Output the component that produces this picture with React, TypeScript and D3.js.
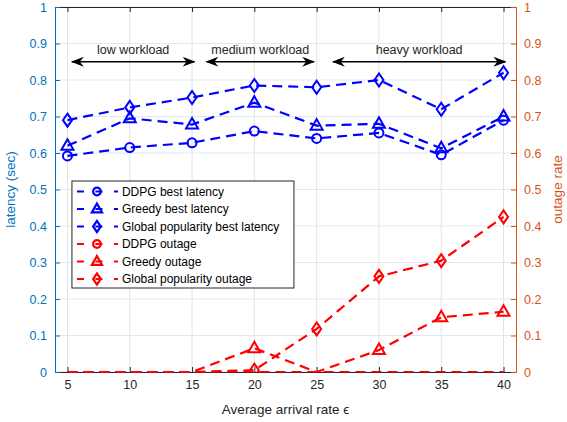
import React, { useEffect, useRef } from 'react';
import * as d3 from 'd3';

const rates = [5, 10, 15, 20, 25, 30, 35, 40];

// latency (left axis, sec)
const ddpgLatency = [0.592, 0.615, 0.628, 0.66, 0.64, 0.655, 0.595, 0.69];
const greedyLatency = [0.62, 0.695, 0.678, 0.738, 0.675, 0.68, 0.613, 0.70];
const globalLatency = [0.69, 0.725, 0.752, 0.785, 0.78, 0.80, 0.72, 0.82];

// outage rate (right axis)
const ddpgOutage = [0, 0, 0, 0, 0, 0, 0, 0];
const greedyOutage = [0, 0, 0, 0.065, 0, 0.06, 0.15, 0.165];
const globalOutage = [0, 0, 0, 0.005, 0.118, 0.262, 0.305, 0.425];

const yTicks = [0, 0.1, 0.2, 0.3, 0.4, 0.5, 0.6, 0.7, 0.8, 0.9, 1];

const workloads = [
  { label: 'low workload', from: 5.35, to: 15.2 },
  { label: 'medium workload', from: 16.15, to: 24.8 },
  { label: 'heavy workload', from: 26.3, to: 40.15 },
];

type Series = { name: string; values: number[]; color: string; marker: string; axis: 'left' | 'right' };

const series: Series[] = [
  { name: 'DDPG best latency', values: ddpgLatency, color: '#0000ff', marker: 'circle', axis: 'left' },
  { name: 'Greedy best latency', values: greedyLatency, color: '#0000ff', marker: 'triangle', axis: 'left' },
  { name: 'Global popularity best latency', values: globalLatency, color: '#0000ff', marker: 'diamond', axis: 'left' },
  { name: 'DDPG outage', values: ddpgOutage, color: '#ff0000', marker: 'circle', axis: 'right' },
  { name: 'Greedy outage', values: greedyOutage, color: '#ff0000', marker: 'triangle', axis: 'right' },
  { name: 'Global popularity outage', values: globalOutage, color: '#ff0000', marker: 'diamond', axis: 'right' },
];

const FONT = '"Liberation Sans", Arial, Helvetica, sans-serif';
const LEFT_COLOR = '#0072bd';
const RIGHT_COLOR = '#d95319';
const TEXT_COLOR = '#262626';

function markerPath(kind: string): string {
  if (kind === 'circle') return d3.symbol(d3.symbolCircle, 64)() as string;
  if (kind === 'triangle') return 'M0,-6.5L6,4L-6,4Z';
  return 'M0,-6.5L4.5,0L0,6.5L-4.5,0Z';
}

export default function App() {
  const svgRef = useRef<SVGSVGElement>(null);

  useEffect(() => {
    if (!svgRef.current) return;
    const svg = d3.select(svgRef.current);
    svg.selectAll('*').remove();

    const W = 567, H = 422;
    const margin = { top: 7, right: 51, bottom: 50, left: 55 };
    const width = W - margin.left - margin.right;
    const height = H - margin.top - margin.bottom;

    const defs = svg.append('defs');
    defs.append('clipPath').attr('id', 'plotClip')
      .append('rect').attr('x', 0).attr('y', -1).attr('width', width).attr('height', height + 1.5);
    defs.append('marker').attr('id', 'arrowHead')
      .attr('viewBox', '0 0 13 10').attr('refX', 12).attr('refY', 5)
      .attr('markerWidth', 13).attr('markerHeight', 10).attr('markerUnits', 'userSpaceOnUse')
      .attr('orient', 'auto-start-reverse')
      .append('path').attr('d', 'M0,0L13,5L0,10L4,5Z').attr('fill', '#000');

    const g = svg.append('g').attr('transform', `translate(${margin.left},${margin.top})`);

    const x = d3.scaleLinear().domain([4, 41]).range([0, width]);
    const yL = d3.scaleLinear().domain([0, 1]).range([height, 0]);
    const yR = d3.scaleLinear().domain([0, 1]).range([height, 0]);

    // grid
    g.append('g').selectAll('line').data(rates).enter().append('line')
      .attr('x1', d => x(d)).attr('x2', d => x(d))
      .attr('y1', 0).attr('y2', height)
      .attr('stroke', '#e3e3e3').attr('stroke-width', 1);
    g.append('g').selectAll('line').data(yTicks).enter().append('line')
      .attr('x1', 0).attr('x2', width)
      .attr('y1', d => yL(d)).attr('y2', d => yL(d))
      .attr('stroke', '#dde9f4').attr('stroke-width', 1);

    // axes
    const xAxis = g.append('g').attr('transform', `translate(0,${height})`)
      .call(d3.axisBottom(x).tickValues(rates).tickSizeInner(-5).tickSizeOuter(0).tickPadding(8));
    xAxis.select('.domain').attr('stroke', TEXT_COLOR);
    xAxis.selectAll('.tick line').attr('stroke', TEXT_COLOR);
    xAxis.selectAll('text').style('font-size', '12.5px').style('font-family', FONT).attr('fill', TEXT_COLOR);

    const xTop = g.append('g')
      .call(d3.axisTop(x).tickValues(rates).tickSizeInner(-5).tickSizeOuter(0).tickFormat(() => ''));
    xTop.select('.domain').attr('stroke', TEXT_COLOR);
    xTop.selectAll('.tick line').attr('stroke', TEXT_COLOR);

    const lAxis = g.append('g')
      .call(d3.axisLeft(yL).tickValues(yTicks).tickSizeInner(-5).tickSizeOuter(0).tickPadding(8).tickFormat(d3.format('~g')));
    lAxis.selectAll('.domain, .tick line').attr('stroke', LEFT_COLOR);
    lAxis.selectAll('text').style('font-size', '12.5px').style('font-family', FONT).attr('fill', LEFT_COLOR);

    const rAxis = g.append('g').attr('transform', `translate(${width},0)`)
      .call(d3.axisRight(yR).tickValues(yTicks).tickSizeInner(-5).tickSizeOuter(0).tickPadding(8).tickFormat(d3.format('~g')));
    rAxis.selectAll('.domain, .tick line').attr('stroke', RIGHT_COLOR);
    rAxis.selectAll('text').style('font-size', '12.5px').style('font-family', FONT).attr('fill', RIGHT_COLOR);

    // workload annotations
    const ann = g.append('g');
    workloads.forEach(w => {
      ann.append('line')
        .attr('x1', x(w.from)).attr('x2', x(w.to))
        .attr('y1', yL(0.85)).attr('y2', yL(0.85))
        .attr('stroke', '#000').attr('stroke-width', 1.4)
        .attr('marker-start', 'url(#arrowHead)').attr('marker-end', 'url(#arrowHead)');
      ann.append('text')
        .attr('x', (x(w.from) + x(w.to)) / 2).attr('y', yL(0.85) - 8)
        .attr('text-anchor', 'middle')
        .style('font-size', '12.5px').style('font-family', FONT).attr('fill', TEXT_COLOR)
        .text(w.label);
    });

    // series
    const plot = g.append('g').attr('clip-path', 'url(#plotClip)');
    series.forEach(s => {
      const y = s.axis === 'left' ? yL : yR;
      const line = d3.line<number>().x((_, i) => x(rates[i])).y(d => y(d));
      const sg = plot.append('g');
      sg.append('path')
        .datum(s.values)
        .attr('d', line)
        .attr('fill', 'none')
        .attr('stroke', s.color)
        .attr('stroke-width', 2.2)
        .attr('stroke-dasharray', '10,6');
      const pts = s.values.map((v, i) => ({ v, r: rates[i] })).filter(p => p.v > 0);
      sg.selectAll('path.mk').data(pts).enter().append('path')
        .attr('class', 'mk')
        .attr('d', markerPath(s.marker))
        .attr('transform', p => `translate(${x(p.r)},${y(p.v)})`)
        .attr('fill', 'none')
        .attr('stroke', s.color)
        .attr('stroke-width', 2);
    });

    // axis labels
    g.append('text')
      .attr('x', width / 2).attr('y', height + 42)
      .attr('text-anchor', 'middle')
      .style('font-size', '13.5px').style('font-family', FONT).attr('fill', TEXT_COLOR)
      .text('Average arrival rate ϵ');
    g.append('text')
      .attr('transform', `translate(-40,${height / 2}) rotate(-90)`)
      .attr('text-anchor', 'middle')
      .style('font-size', '13.5px').style('font-family', FONT).attr('fill', LEFT_COLOR)
      .text('latency (sec)');
    g.append('text')
      .attr('transform', `translate(${width + 46},${height / 2}) rotate(-90)`)
      .attr('text-anchor', 'middle')
      .style('font-size', '13.5px').style('font-family', FONT).attr('fill', RIGHT_COLOR)
      .text('outage rate');

    // legend
    const lg = g.append('g').attr('transform', `translate(${x(5.36)},${174})`);
    const rowH = 17.5;
    lg.append('rect')
      .attr('x', 0).attr('y', 0)
      .attr('width', 222).attr('height', rowH * series.length + 2)
      .attr('fill', '#fff').attr('stroke', TEXT_COLOR).attr('stroke-width', 1);
    series.forEach((s, i) => {
      const cy = 10.5 + i * rowH;
      const row = lg.append('g');
      row.append('line')
        .attr('x1', 5).attr('x2', 46).attr('y1', cy).attr('y2', cy)
        .attr('stroke', s.color).attr('stroke-width', 2.2).attr('stroke-dasharray', '7,11.5');
      row.append('path')
        .attr('d', markerPath(s.marker))
        .attr('transform', `translate(25,${cy}) scale(0.85)`)
        .attr('fill', 'none')
        .attr('stroke', s.color).attr('stroke-width', 2.6);
      row.append('text')
        .attr('x', 50).attr('y', cy).attr('dy', '0.35em')
        .style('font-size', '12px').style('font-family', FONT).attr('fill', '#000')
        .text(s.name);
    });
  }, []);

  return (
    <div style={{ position: 'absolute', left: 0, top: 0 }}>
      <svg ref={svgRef} width={567} height={422} style={{ display: 'block', background: '#fff' }} />
    </div>
  );
}
